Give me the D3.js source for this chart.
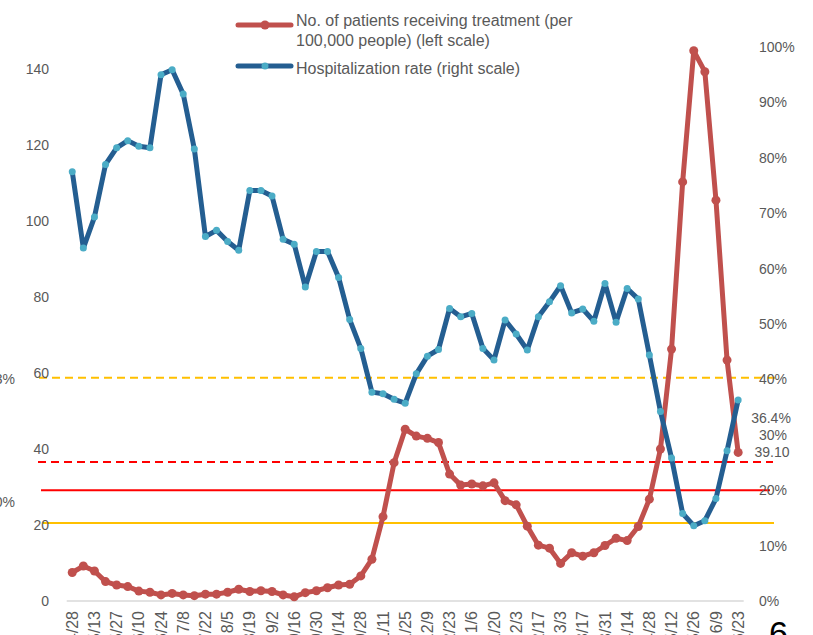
<!DOCTYPE html>
<html><head><meta charset="utf-8">
<script src="https://cdn.jsdelivr.net/npm/d3@7"></script>
<style>body{margin:0;background:#fff;overflow:hidden}svg{display:block}</style>
</head><body><svg id="c" width="813" height="635"></svg>
<script>
// ---- data ----
const dates = ["4/28","5/6","5/13","5/20","5/27","6/3","6/10","6/17","6/24","7/1","7/8","7/15","7/22","7/29","8/5","8/12","8/19","8/26","9/2","9/9","9/16","9/23","9/30","10/7","10/14","10/21","10/28","11/4","11/11","11/18","11/25","12/2","12/9","12/16","12/23","12/30","1/6","1/13","1/20","1/27","2/3","2/10","2/17","2/24","3/3","3/10","3/17","3/24","3/31","4/7","4/14","4/21","4/28","5/5","5/12","5/19","5/26","6/2","6/9","6/16","6/23"];
const patients = [7.5,9.2,7.9,5.1,4.2,3.8,2.6,2.3,1.6,2.0,1.6,1.4,1.8,1.8,2.3,3.1,2.5,2.7,2.5,1.6,1.1,2.2,2.7,3.5,4.2,4.4,6.6,11.0,22.2,36.4,45.2,43.4,42.8,41.7,33.4,30.5,30.8,30.3,31.1,26.4,25.3,19.7,14.7,13.9,9.9,12.7,11.8,12.7,14.6,16.5,15.9,19.6,26.8,40.0,66.3,110.3,144.8,139.3,105.5,63.4,39.1];
const hospRate = [77.5,63.7,69.3,78.8,81.8,83.1,82.1,81.8,95.0,95.9,91.5,81.6,65.8,66.9,64.9,63.3,74.1,74.1,73.1,65.3,64.4,56.7,63.1,63.1,58.4,50.8,45.6,37.7,37.4,36.4,35.7,41.0,44.2,45.4,52.8,51.3,51.9,45.6,43.5,50.7,48.2,45.3,51.3,54.0,56.9,52.0,52.7,50.5,57.3,50.3,56.4,54.5,44.4,34.2,25.8,15.8,13.6,14.5,18.5,27.1,36.3];
const leftTicks = [0,20,40,60,80,100,120,140];
const rightTicks = [0,10,20,30,40,50,60,70,80,90,100];
const refValues = [40.3,25.1,20.0,14.1];           // right-scale %
const sideLabels = ["40.3%","20.0%"];
const endLabels = ["36.4%","39.10"];
const legendLabels = [["No. of patients receiving treatment (per","100,000 people) (left scale)"],["Hospitalization rate (right scale)"]];

// ---- styles / layout ----
const RED="#C0504D", BLUE="#245E91", LBLUE="#4BACC6", GRAY="#595959";
const FONT="'Liberation Sans', Arial, sans-serif";
const svg = d3.select("#c");
svg.append("rect").attr("width",813).attr("height",635).attr("fill","#fff");

const idx = d3.range(dates.length);
const x = d3.scaleBand().domain(idx).range([66.7,743.7]);
const cx = i => x(i)+x.bandwidth()/2;
const yL = d3.scaleLinear().domain([0,145.8]).range([601,47]);
const yR = d3.scaleLinear().domain([0,100]).range([601,47]);

// baseline gridline
svg.append("line").attr("x1",x.range()[0]).attr("x2",x.range()[1])
  .attr("y1",yL(0)).attr("y2",yL(0)).attr("stroke","#D9D9D9").attr("stroke-width",1.5);

// reference lines
const refStyle = [
  {c:"#FFC000",dash:"8,5",x1:39,x2:775},
  {c:"#FF0000",dash:"8,5",x1:38,x2:773},
  {c:"#FF0000",dash:null,x1:41,x2:770},
  {c:"#FFC000",dash:null,x1:43,x2:774}];
refValues.forEach((v,i)=>{
  const s=refStyle[i];
  svg.append("line").attr("x1",s.x1).attr("x2",s.x2).attr("y1",yR(v)).attr("y2",yR(v))
    .attr("stroke",s.c).attr("stroke-width",2).attr("stroke-dasharray",s.dash);
});

// axes
const gL = svg.append("g").attr("transform","translate(49,0)")
  .call(d3.axisLeft(yL).tickValues(leftTicks).tickSize(0).tickPadding(0));
const gR = svg.append("g").attr("transform","translate(759,0)")
  .call(d3.axisRight(yR).tickValues(rightTicks).tickSize(0).tickPadding(0).tickFormat(d=>d+"%"));
const gX = svg.append("g").attr("transform",`translate(0,${yL(0)})`)
  .call(d3.axisBottom(x).tickValues(idx.filter(i=>i%2===0)).tickFormat(i=>dates[i]).tickSize(0));
[gL,gR,gX].forEach(g=>{
  g.select(".domain").remove();
  g.selectAll("text").attr("fill",GRAY).style("font-family",FONT).style("font-size","14px");
});
gX.selectAll("text").attr("transform","rotate(-90)").attr("x",-10).attr("y",0)
  .attr("dy","0.35em").attr("text-anchor","end").style("font-size","16px");

// series
const lineL = d3.line().x((d,i)=>cx(i)).y(d=>yL(d));
const lineR = d3.line().x((d,i)=>cx(i)).y(d=>yR(d));
svg.append("path").attr("d",lineL(patients)).attr("fill","none").attr("stroke",RED)
  .attr("stroke-width",5).attr("stroke-linejoin","round").attr("stroke-linecap","round");
svg.append("g").selectAll("circle").data(patients).join("circle")
  .attr("cx",(d,i)=>cx(i)).attr("cy",d=>yL(d)).attr("r",4.5).attr("fill",RED);
svg.append("path").attr("d",lineR(hospRate)).attr("fill","none").attr("stroke",BLUE)
  .attr("stroke-width",5).attr("stroke-linejoin","round").attr("stroke-linecap","round");
svg.append("g").selectAll("circle").data(hospRate).join("circle")
  .attr("cx",(d,i)=>cx(i)).attr("cy",d=>yR(d)).attr("r",3.5).attr("fill",LBLUE);

// end annotations
const last = dates.length-1;
svg.append("text").attr("x",771).attr("y",yR(hospRate[last])+18).attr("dy","0.35em")
  .attr("text-anchor","middle").attr("fill",GRAY).style("font-family",FONT).style("font-size","14px").text(endLabels[0]);
svg.append("text").attr("x",772).attr("y",yL(patients[last])).attr("dy","0.35em")
  .attr("text-anchor","middle").attr("fill",GRAY).style("font-family",FONT).style("font-size","14px").text(endLabels[1]);

// clipped side labels at left edge
[379,502].forEach((yy,i)=>{
  svg.append("text").attr("x",15).attr("y",yy).attr("dy","0.35em").attr("text-anchor","end")
    .attr("fill",GRAY).style("font-family","'Liberation Sans Narrow', 'Liberation Sans', sans-serif")
    .style("font-size","14px").text(sideLabels[i]);
});

// legend
const lg = svg.append("g");
const legItems = [{c:RED,m:RED,r:4.5,y:25,ty:[20,40]},{c:BLUE,m:LBLUE,r:3.5,y:66,ty:[68]}];
legItems.forEach((it,k)=>{
  lg.append("line").attr("x1",238).attr("x2",291).attr("y1",it.y).attr("y2",it.y)
    .attr("stroke",it.c).attr("stroke-width",5).attr("stroke-linecap","round");
  lg.append("circle").attr("cx",265).attr("cy",it.y).attr("r",it.r).attr("fill",it.m);
  legendLabels[k].forEach((t,j)=>{
    lg.append("text").attr("x",296).attr("y",it.ty[j]).attr("dy","0.35em").attr("fill",GRAY)
      .style("font-family",FONT).style("font-size","16px").text(t);
  });
});

// page number fragment
svg.append("text").attr("x",769).attr("y",645).attr("fill","#000")
  .style("font-family",FONT).style("font-size","34px").text("6");
</script></body></html>
